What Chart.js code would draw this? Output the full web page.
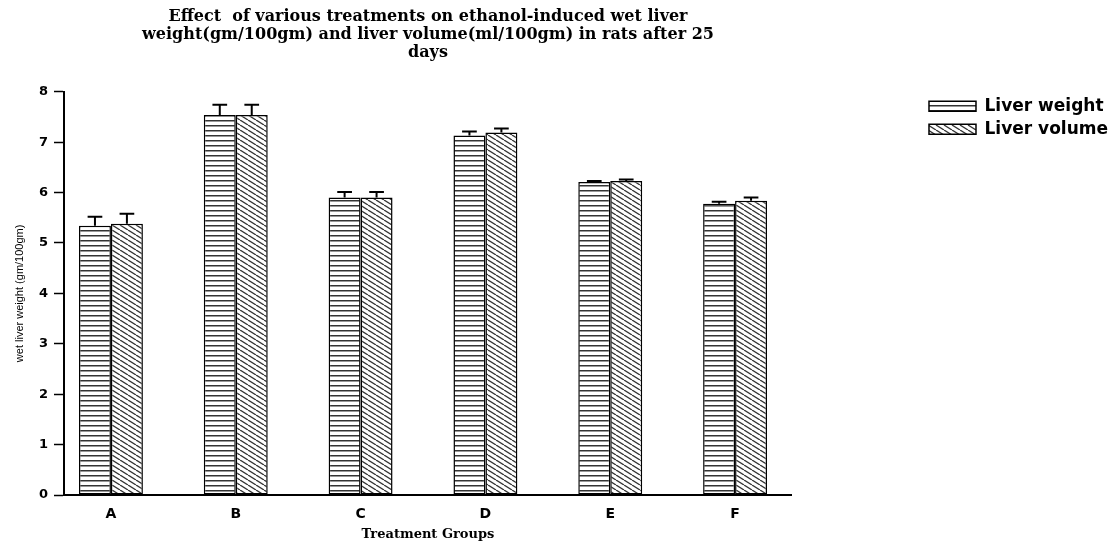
<!DOCTYPE html>
<html>
<head>
<meta charset="utf-8">
<title>Liver weight and volume</title>
<script src="https://cdn.jsdelivr.net/npm/chart.js@4.4.1/dist/chart.umd.min.js"></script>
<style>
  body { margin: 0; background: #fff; }
  #wrap { width: 1118px; height: 542px; }
</style>
</head>
<body>
<div id="wrap"><canvas id="liverChart"></canvas></div>
<script>
// values
const groups = ['A', 'B', 'C', 'D', 'E', 'F'];
const liverWeight = [5.34, 7.54, 5.90, 7.13, 6.21, 5.78];
const liverWeightErr = [0.18, 0.20, 0.11, 0.08, 0.02, 0.04];
const liverVolume = [5.38, 7.54, 5.90, 7.19, 6.23, 5.84];
const liverVolumeErr = [0.20, 0.20, 0.11, 0.08, 0.03, 0.06];
const yTicks = [0, 1, 2, 3, 4, 5, 6, 7, 8];

document.addEventListener("DOMContentLoaded", function() {
    const ctx = document.getElementById('liverChart').getContext('2d');

    // horizontal stripes (liver weight)
    function stripes() {
        const tile = document.createElement('canvas');
        tile.width = 4; tile.height = 5;
        const g = tile.getContext('2d');
        g.fillStyle = '#fff';
        g.fillRect(0, 0, 4, 5);
        g.fillStyle = '#333';
        g.fillRect(0, 0, 4, 1.5);
        return ctx.createPattern(tile, 'repeat');
    }

    // diagonal hatch going down to the right (liver volume)
    function hatch() {
        const w = 8, h = 5;
        const tile = document.createElement('canvas');
        tile.width = w; tile.height = h;
        const g = tile.getContext('2d');
        g.fillStyle = '#fff';
        g.fillRect(0, 0, w, h);
        g.strokeStyle = '#333';
        g.lineWidth = 1.3;
        [-w, 0, w].forEach(dx => {
            g.beginPath();
            g.moveTo(dx, 0);
            g.lineTo(dx + w, h);
            g.stroke();
        });
        return ctx.createPattern(tile, 'repeat');
    }

    // upper error bars with caps
    const errorBars = {
        id: 'errorBars',
        afterDatasetsDraw(chart) {
            const c = chart.ctx;
            const yScale = chart.scales.y;
            c.save();
            c.strokeStyle = '#000';
            c.lineWidth = 2;
            chart.data.datasets.forEach((ds, d) => {
                chart.getDatasetMeta(d).data.forEach((bar, i) => {
                    const top = yScale.getPixelForValue(ds.data[i].y + ds.errors[i]);
                    const half = bar.width * 0.23;
                    c.beginPath();
                    c.moveTo(bar.x, bar.y);
                    c.lineTo(bar.x, top);
                    c.moveTo(bar.x - half, top);
                    c.lineTo(bar.x + half, top);
                    c.stroke();
                });
            });
            c.restore();
        }
    };

    Chart.defaults.font.family = 'Liberation Sans';
    Chart.defaults.color = '#000';

    new Chart(ctx, {
        type: 'bar',
        data: {
            datasets: [{
                label: 'Liver weight',
                data: liverWeight.map((v, i) => ({ x: i, y: v })),
                errors: liverWeightErr,
                backgroundColor: stripes(),
                borderColor: '#000',
                borderWidth: 1.5,
                borderSkipped: false,
                barPercentage: 1,
                categoryPercentage: 0.512
            }, {
                label: 'Liver volume',
                data: liverVolume.map((v, i) => ({ x: i, y: v })),
                errors: liverVolumeErr,
                backgroundColor: hatch(),
                borderColor: '#000',
                borderWidth: 1.5,
                borderSkipped: false,
                barPercentage: 1,
                categoryPercentage: 0.512
            }]
        },
        options: {
            responsive: true,
            maintainAspectRatio: false,
            animation: false,
            layout: { padding: 0 },
            plugins: {
                tooltip: { enabled: false },
                title: {
                    display: true,
                    fullSize: false,
                    text: [
                        'Effect  of various treatments on ethanol-induced wet liver',
                        'weight(gm/100gm) and liver volume(ml/100gm) in rats after 25',
                        'days'
                    ],
                    color: '#000',
                    font: { family: 'DejaVu Serif', weight: 'bold', size: 16, lineHeight: 1.12 },
                    padding: { top: 8, bottom: 30 }
                },
                legend: {
                    position: 'right',
                    align: 'start',
                    fullSize: false,
                    maxWidth: 330,
                    labels: {
                        boxWidth: 47,
                        boxHeight: 10,
                        padding: 6,
                        color: '#000',
                        font: { family: 'DejaVu Sans', weight: 'bold', size: 17 }
                    }
                }
            },
            scales: {
                x: {
                    type: 'linear',
                    min: -0.376,
                    max: 5.456,
                    offset: false,
                    bounds: 'data',
                    afterBuildTicks: s => { s.ticks = groups.map((g, i) => ({ value: i })); },
                    afterFit: s => { s.height = 47; },
                    grid: { display: false },
                    border: { display: true, color: '#000', width: 2 },
                    ticks: {
                        callback: v => groups[v],
                        autoSkip: false,
                        maxRotation: 0,
                        padding: 3,
                        color: '#000',
                        font: { family: 'DejaVu Sans', weight: 'bold', size: 14 }
                    },
                    title: {
                        display: true,
                        text: 'Treatment Groups',
                        color: '#000',
                        font: { family: 'DejaVu Serif', weight: 'bold', size: 13 },
                        padding: { top: 0, bottom: 0 }
                    }
                },
                y: {
                    min: 0,
                    max: 8,
                    afterBuildTicks: s => { s.ticks = yTicks.map(v => ({ value: v })); },
                    afterFit: s => { s.width = 64; },
                    grid: {
                        drawOnChartArea: false,
                        drawTicks: true,
                        tickLength: 10,
                        tickWidth: 1.5,
                        tickColor: '#000'
                    },
                    border: { color: '#000', width: 2 },
                    ticks: {
                        padding: 6,
                        color: '#000',
                        font: { family: 'DejaVu Sans', weight: 'bold', size: 13 }
                    },
                    title: {
                        display: true,
                        text: 'wet liver weight (gm/100gm)',
                        color: '#000',
                        font: { family: 'Liberation Sans', size: 11 },
                        padding: { top: 13, bottom: 0 }
                    }
                },
                // empty space between plot and legend
                gap: {
                    axis: 'y',
                    type: 'linear',
                    position: 'right',
                    display: true,
                    grid: { display: false },
                    border: { display: false },
                    ticks: { display: false },
                    afterFit: s => { s.width = 131; }
                }
            }
        },
        plugins: [errorBars]
    });
});
</script>
</body>
</html>
